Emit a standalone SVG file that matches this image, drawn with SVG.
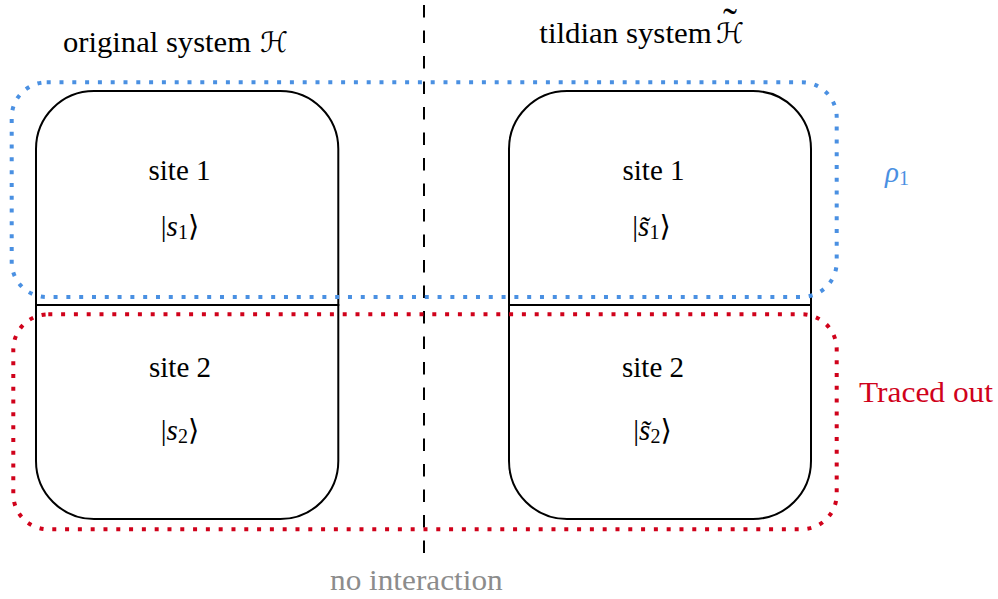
<svg xmlns="http://www.w3.org/2000/svg" width="998" height="599" viewBox="0 0 998 599">
<style>
  .t { font-family: "Liberation Serif", "DejaVu Serif", serif; font-size: 29px; fill: #000; }
  .cal { font-family: "DejaVu Serif", "DejaVu Sans", serif; font-size: 28px; font-style: italic; fill: #000; }
  .acc { font-family: "Liberation Serif", "DejaVu Serif", serif; font-size: 42px; font-style: normal; }
  .ang { font-family: "DejaVu Serif", "DejaVu Sans", serif; }
  .it { font-style: italic; }
  .sub { font-size: 20px; }
  .box { fill: none; stroke: #000; stroke-width: 2; }
  .blue { fill: none; stroke: #4A90E2; stroke-width: 4; stroke-dasharray: 4 8.8; }
  .red { fill: none; stroke: #D0021B; stroke-width: 4; stroke-dasharray: 4 8.8; }
  .sep { stroke: #000; stroke-width: 2; stroke-dasharray: 12.5 13; }
</style>
<rect width="998" height="599" fill="#fff"/>

<g id="separator">
  <line class="sep" x1="424" y1="5" x2="424" y2="560"/>
</g>

<g id="title-original">
  <text class="t" x="63" y="52" textLength="188" lengthAdjust="spacingAndGlyphs">original system</text>
  <text class="cal" x="260" y="52">ℋ</text>
</g>
<g id="title-tildian">
  <text class="t" x="539.3" y="42.5" textLength="172.4" lengthAdjust="spacingAndGlyphs">tildian system</text>
  <text class="cal" x="716" y="42.5">ℋ<tspan class="acc" x="730" dy="-6" text-anchor="middle">˜</tspan></text>
</g>

<g id="node-site1-original">
  <path class="box" d="M36,305 V149 A58,58 0 0 1 94,91 H280.3 A58,58 0 0 1 338.3,149 V305 Z"/>
  <text class="t" x="179.5" y="180" text-anchor="middle">site 1</text>
  <text class="t" x="180" y="236" text-anchor="middle">|<tspan class="it">s</tspan><tspan class="sub" dy="3">1</tspan><tspan class="ang" dy="-3">⟩</tspan></text>
</g>
<g id="node-site2-original">
  <path class="box" d="M36,305 V461 A58,58 0 0 0 94,519 H280.3 A58,58 0 0 0 338.3,461 V305 Z"/>
  <text class="t" x="180" y="377" text-anchor="middle">site 2</text>
  <text class="t" x="180" y="440" text-anchor="middle">|<tspan class="it">s</tspan><tspan class="sub" dy="3">2</tspan><tspan class="ang" dy="-3">⟩</tspan></text>
</g>
<g id="node-site1-tildian">
  <path class="box" d="M509,305 V149 A58,58 0 0 1 567,91 H753 A58,58 0 0 1 811,149 V305 Z"/>
  <text class="t" x="653.5" y="180" text-anchor="middle">site 1</text>
  <text class="t" x="651.5" y="236" text-anchor="middle">|<tspan class="it">s&#x303;</tspan><tspan class="sub" dy="3">1</tspan><tspan class="ang" dy="-3">⟩</tspan></text>
</g>
<g id="node-site2-tildian">
  <path class="box" d="M509,305 V461 A58,58 0 0 0 567,519 H753 A58,58 0 0 0 811,461 V305 Z"/>
  <text class="t" x="653" y="377" text-anchor="middle">site 2</text>
  <text class="t" x="652.5" y="440" text-anchor="middle">|<tspan class="it">s&#x303;</tspan><tspan class="sub" dy="3">2</tspan><tspan class="ang" dy="-3">⟩</tspan></text>
</g>

<g id="region-rho1">
  <rect class="blue" x="11.7" y="82.3" width="825" height="214.7" rx="35" ry="35"/>
  <text class="t" x="885" y="182" style="fill:#4A90E2"><tspan class="it">ρ</tspan><tspan class="sub" dy="3">1</tspan></text>
</g>
<g id="region-traced">
  <rect class="red" x="13.3" y="314.3" width="823.4" height="215" rx="35" ry="35"/>
  <text class="t" x="859" y="402" textLength="134" lengthAdjust="spacingAndGlyphs" style="fill:#D0021B">Traced out</text>
</g>

<g id="label-no-interaction">
  <text class="t" x="330" y="590" textLength="172.7" lengthAdjust="spacingAndGlyphs" style="fill:#8C8C8C">no interaction</text>
</g>
</svg>
